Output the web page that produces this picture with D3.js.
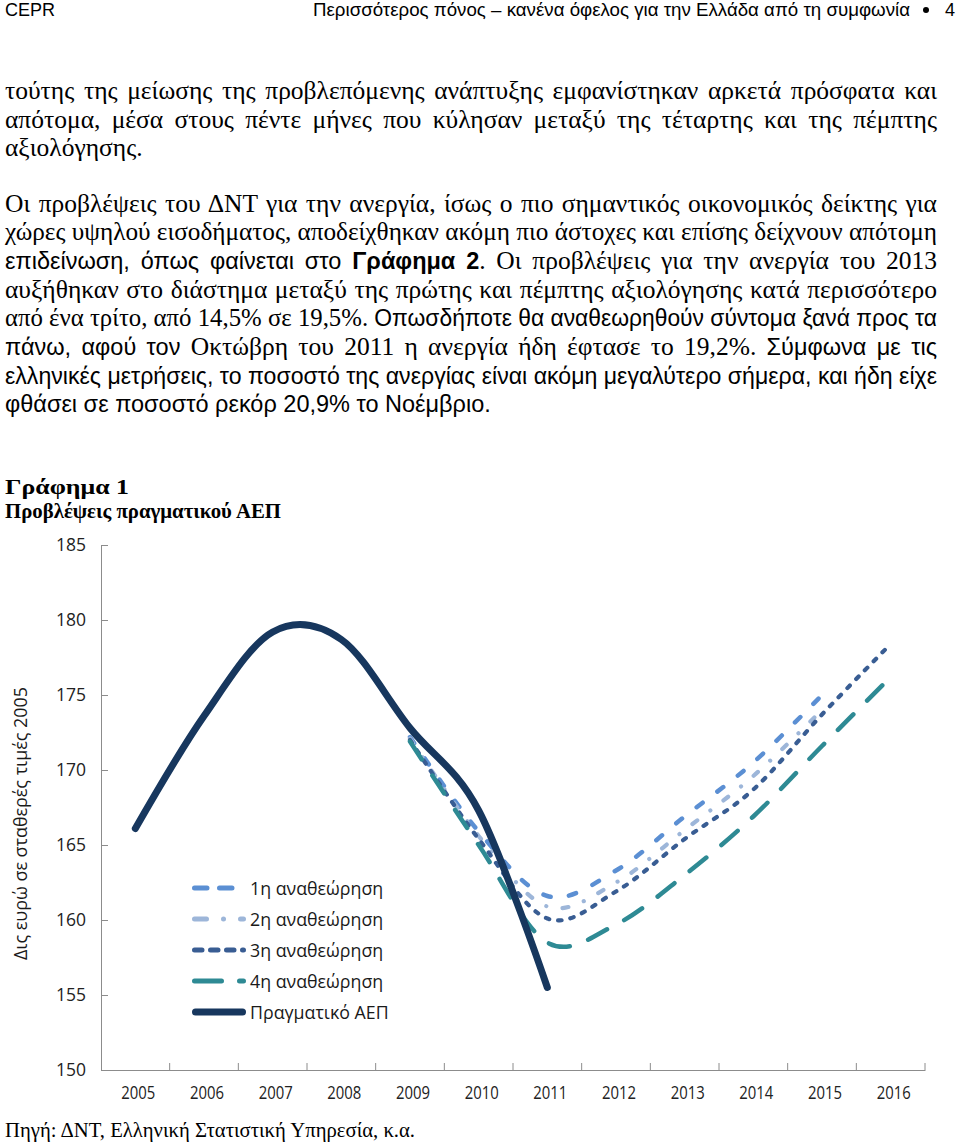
<!DOCTYPE html>
<html><head><meta charset="utf-8">
<script src="https://cdn.jsdelivr.net/npm/d3@7"></script>
<style>body{margin:0;background:#fff}svg{display:block}</style>
</head><body>
<script>
// ---------- DATA ----------
const years = ["2005","2006","2007","2008","2009","2010","2011","2012","2013","2014","2015","2016"];
const yTicks = [150,155,160,165,170,175,180,185];
const actualYears = ["2005","2006","2007","2008","2009","2010","2011"];
const actualGDP = [166.1,173.6,179.2,178.7,172.8,167.3,155.5];
const revYears15 = ["2009","2010","2011","2012","2013","2014","2015"];
const revYears16 = ["2009","2010","2011","2012","2013","2014","2015","2016"];
const rev1 = [172.2,165.9,161.6,163.3,166.9,170.5,175.0];
const rev2 = [172.1,165.6,160.9,162.5,166.0,169.6,174.0];
const rev3 = [172.0,165.4,160.1,161.9,165.4,168.7,173.7,178.4];
const rev4 = [171.9,165.0,158.5,159.7,163.0,166.9,171.6,176.2];
const seriesNames = ["1η αναθεώρηση","2η αναθεώρηση","3η αναθεώρηση","4η αναθεώρηση","Πραγματικό ΑΕΠ"];
const yAxisTitle = "Δις ευρώ σε σταθερές τιμές 2005";
const headerLeft = "CEPR";
const headerRight = "Περισσότερος πόνος – κανένα όφελος για την Ελλάδα από τη συμφωνία";
const headerPage = "4";
const chartTitle1 = "Γράφημα 1";
const chartTitle2 = "Προβλέψεις πραγματικού ΑΕΠ";
const sourceText = "Πηγή: ΔΝΤ, Ελληνική Στατιστική Υπηρεσία, κ.α.";
const bodyLines = [
  {segs:[["τούτης της μείωσης της προβλεπόμενης ανάπτυξης εμφανίστηκαν αρκετά πρόσφατα και","r"]], j:true},
  {segs:[["απότομα, μέσα στους πέντε μήνες που κύλησαν μεταξύ της τέταρτης και της πέμπτης","r"]], j:true},
  {segs:[["αξιολόγησης.","r"]], j:false},
  {segs:[["Οι προβλέψεις του ΔΝΤ για την ανεργία, ίσως ο πιο σημαντικός οικονομικός δείκτης για","r"]], j:true},
  {segs:[["χώρες υψηλού εισοδήματος, αποδείχθηκαν ακόμη πιο άστοχες και επίσης δείχνουν απότομη","r"]], j:true},
  {segs:[["επιδείνωση, όπως φαίνεται στο ","s"],["Γράφημα 2","sb"],[". Οι προβλέψεις για την ανεργία του 2013","r"]], j:true},
  {segs:[["αυξήθηκαν στο διάστημα μεταξύ της πρώτης και πέμπτης αξιολόγησης κατά περισσότερο","r"]], j:true},
  {segs:[["από ένα τρίτο, από 14,5% σε 19,5%. ","r"],["Οπωσδήποτε θα αναθεωρηθούν σύντομα ξανά προς τα","s"]], j:true},
  {segs:[["πάνω, αφού τον ","s"],["Οκτώβρη του 2011 η ανεργία ήδη έφτασε το 19,2%. ","r"],["Σύμφωνα με τις","s"]], j:true},
  {segs:[["ελληνικές μετρήσεις, το ποσοστό της ανεργίας είναι ακόμη μεγαλύτερο σήμερα, και ήδη είχε","s"]], j:true},
  {segs:[["φθάσει σε ποσοστό ρεκόρ 20,9% το Νοέμβριο.","s"]], j:false}
];

// ---------- SETUP ----------
const W = 960, H = 1142;
const svg = d3.select("body").append("svg").attr("width", W).attr("height", H);
svg.append("rect").attr("width", W).attr("height", H).attr("fill", "#fff");

const SANS = "'Liberation Sans', Arial, sans-serif";
const SERIF = "'Liberation Serif', 'Times New Roman', serif";
const CHART = "'Open Sans', 'Noto Sans', sans-serif";

// header
svg.append("text").attr("x", 5).attr("y", 16).attr("font-family", SANS).attr("font-size", 18)
  .attr("fill", "#000").text(headerLeft);
svg.append("text").attr("x", 313).attr("y", 16).attr("font-family", SANS).attr("font-size", 18)
  .attr("fill", "#000").attr("textLength", 597).attr("lengthAdjust", "spacingAndGlyphs").text(headerRight);
svg.append("circle").attr("cx", 926).attr("cy", 10).attr("r", 3).attr("fill", "#000");
svg.append("text").attr("x", 955).attr("y", 16).attr("text-anchor", "end").attr("font-family", SANS)
  .attr("font-size", 18).attr("fill", "#000").text(headerPage);

// body text
const styleMap = {
  s: {ff: SANS, fw: "normal", fs: 23.5},
  sb: {ff: SANS, fw: "bold", fs: 23.5},
  r: {ff: SERIF, fw: "normal", fs: 25.5}
};
const baselines = [99, 127.7, 156.4, 211.5, 240.2, 268.9, 297.6, 326.3, 355, 383.7, 412.4];
bodyLines.forEach((ln, i) => {
  const t = svg.append("text").attr("x", 5).attr("y", baselines[i]).attr("fill", "#000")
    .style("white-space", "pre");
  ln.segs.forEach(([txt, st]) => {
    const m = styleMap[st];
    t.append("tspan").attr("font-family", m.ff).attr("font-weight", m.fw).attr("font-size", m.fs).text(txt);
  });
  if (ln.j) {
    const nat = t.node().getComputedTextLength();
    const full = ln.segs.map(s => s[0]).join("");
    const nSp = (full.match(/ /g) || []).length;
    const ws = (932 - nat) / nSp;
    if (ws >= 0.5) t.attr("word-spacing", ws);
    else t.attr("textLength", 932).attr("lengthAdjust", "spacingAndGlyphs");
  }
});

// chart titles
svg.append("text").attr("x", 5).attr("y", 494).attr("font-family", SERIF).attr("font-weight", "bold")
  .attr("font-size", 21).attr("textLength", 124).attr("lengthAdjust", "spacingAndGlyphs").text(chartTitle1);
svg.append("text").attr("x", 5).attr("y", 518).attr("font-family", SERIF).attr("font-weight", "bold")
  .attr("font-size", 21).attr("textLength", 276).attr("lengthAdjust", "spacingAndGlyphs").text(chartTitle2);

// source
svg.append("text").attr("x", 5).attr("y", 1137).attr("font-family", SERIF)
  .attr("font-size", 20).attr("textLength", 410).attr("lengthAdjust", "spacingAndGlyphs").text(sourceText);

// ---------- CHART ----------
const x = d3.scaleBand().domain(years).range([101, 925]);
const y = d3.scaleLinear().domain([150, 185]).range([1070, 545]);
const cx = d => x(d) + x.bandwidth() / 2;
const axisColor = "#8c8c8c";

// y axis
const gy = svg.append("g").attr("transform", `translate(${x.range()[0]},0)`)
  .call(d3.axisLeft(y).tickValues(yTicks).tickSize(-7).tickPadding(15).tickFormat(d3.format("d")));
gy.select(".domain").attr("stroke", axisColor);
gy.selectAll(".tick line").attr("stroke", axisColor);
gy.selectAll(".tick text").attr("font-family", CHART).attr("font-size", 17.5).attr("fill", "#222");

// x axis labels
const gx = svg.append("g").attr("transform", `translate(0,${y(150)})`)
  .call(d3.axisBottom(x).tickSize(0).tickPadding(16));
gx.select(".domain").attr("stroke", axisColor);
gx.selectAll(".tick text").attr("font-family", CHART).attr("font-size", 18).attr("fill", "#222")
  .attr("dx", 3).attr("textLength", 34).attr("lengthAdjust", "spacingAndGlyphs");
// x boundary ticks
const bounds = years.map(d => x(d)).concat([x.range()[1]]);
svg.append("g").selectAll("line").data(bounds.slice(1)).join("line")
  .attr("x1", d => d).attr("x2", d => d).attr("y1", y(150)).attr("y2", y(150) - 7)
  .attr("stroke", axisColor);

// y axis title
svg.append("text").attr("transform", `translate(27,${(y(150) + y(185)) / 2 + 16}) rotate(-90)`)
  .attr("text-anchor", "middle").attr("font-family", CHART).attr("font-size", 18.5)
  .attr("textLength", 273).attr("lengthAdjust", "spacingAndGlyphs").attr("fill", "#1a1a1a").text(yAxisTitle);

const line = d3.line().x(d => cx(d.k)).y(d => y(d.v)).curve(d3.curveCardinal.tension(0));
const mk = (ks, vs) => ks.map((k, i) => ({k, v: vs[i]}));

const series = [
  {data: mk(revYears15, rev1), color: "#5b8fd3", w: 4.5, dash: "7.5,18.5"},
  {data: mk(revYears15, rev2), color: "#9db6d9", w: 4.2, dash: "6,16.5,0.01,16.5"},
  {data: mk(revYears16, rev3), color: "#395d93", w: 4.2, dash: "3.5,9"},
  {data: mk(revYears16, rev4), color: "#2e8a94", w: 4.5, dash: "21.5,19.5"},
  {data: mk(actualYears, actualGDP), color: "#17375e", w: 7, dash: null}
];
series.forEach(s => {
  svg.append("path").attr("d", line(s.data)).attr("fill", "none").attr("stroke", s.color)
    .attr("stroke-width", s.w).attr("stroke-linecap", "round").attr("stroke-linejoin", "round")
    .attr("stroke-dasharray", s.dash);
});

// legend
const legDash = ["12.5,12.5", "12,17,0.01,17", "7.5,8.5", "27,18", null];
const legW = [5, 5, 5, 5, 7];
const legRows = [888, 919, 950, 981, 1012];
series.forEach((s, i) => {
  const yy = legRows[i];
  svg.append("line").attr("x1", 192 + legW[i] / 2).attr("x2", 246 - legW[i] / 2)
    .attr("y1", yy).attr("y2", yy).attr("stroke", s.color).attr("stroke-width", legW[i])
    .attr("stroke-linecap", "round").attr("stroke-dasharray", legDash[i]);
  svg.append("text").attr("x", 250).attr("y", yy + 6.5).attr("font-family", CHART).attr("font-size", 17.8)
    .attr("fill", "#1a1a1a").text(seriesNames[i]);
});
</script>
</body></html>
